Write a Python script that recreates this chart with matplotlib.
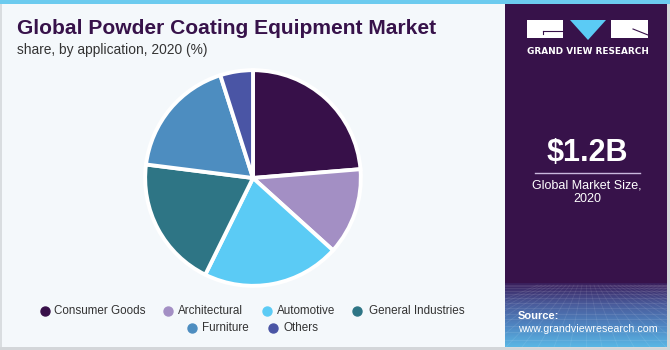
import numpy as np
import matplotlib
matplotlib.use("Agg")
import matplotlib.pyplot as plt
from matplotlib.patches import Rectangle, Polygon
from matplotlib.colors import LinearSegmentedColormap

categories = ["Consumer Goods", "Architectural", "Automotive", "General Industries", "Furniture", "Others"]
shares = [23.7, 13.0, 20.6, 19.7, 18.1, 4.9]
colors = ["#371049", "#a38fc4", "#5bcbf5", "#2e7585", "#4d8dc0", "#4a55a5"]

title = "Global Powder Coating Equipment Market"
subtitle = "share, by application, 2020 (%)"
market_size = "$1.2B"
market_label = "Global Market Size,\n2020"

W, H = 670, 350
fig = plt.figure(figsize=(W / 100, H / 100), dpi=100)
fig.patch.set_facecolor("#f4f8fb")

bg = fig.add_axes([0, 0, 1, 1])
bg.set_xlim(0, W)
bg.set_ylim(H, 0)
bg.axis("off")

# left panel & borders
bg.add_patch(Rectangle((0, 0), W, H, facecolor="#f4f8fb", edgecolor="none"))
bg.add_patch(Rectangle((0, 0), 2, H, facecolor="#d9dde0", edgecolor="none"))
bg.add_patch(Rectangle((0, 347), W, 3, facecolor="#d3d6d9", edgecolor="none"))
bg.add_patch(Rectangle((667, 0), 3, H, facecolor="#d3d6d9", edgecolor="none"))
# right panel
bg.add_patch(Rectangle((505, 0), 162, 347, facecolor="#37124a", edgecolor="none"))
# gradient at bottom right
cmap = LinearSegmentedColormap.from_list("g", ["#3a1f5c", "#4a5c9c", "#4f86c2", "#5ab6e4"])
grad = np.linspace(0, 1, 100).reshape(-1, 1)
bg.imshow(grad, cmap=cmap, extent=(505, 667, 347, 283), aspect="auto", zorder=1)
# faint perspective grid
for i in range(-12, 26):
    x0 = 586 + i * 4
    x1 = 586 + i * 16
    bg.plot([x0, x1], [285, 347], color="white", alpha=0.09, lw=0.6, zorder=2)
ys = 285 + (np.linspace(0, 1, 14) ** 1.6) * 62
for y in ys:
    bg.plot([505, 667], [y, y], color="white", alpha=0.1, lw=0.6, zorder=2)
bg.add_patch(Rectangle((500, 283), 5, 64, facecolor="#f4f8fb", edgecolor="none", zorder=3))
bg.add_patch(Rectangle((667, 283), 3, 67, facecolor="#d3d6d9", edgecolor="none", zorder=3))
# top strip
bg.add_patch(Rectangle((0, 0), W, 4, facecolor="#6ccbef", edgecolor="none", zorder=4))

# logo
bg.add_patch(Rectangle((527, 20), 36, 18, facecolor="white", edgecolor="none", zorder=5))
bg.plot([543, 563], [31, 31], color="#37124a", lw=0.8, zorder=6)
bg.plot([543, 543], [31, 34], color="#37124a", lw=0.8, zorder=6)
bg.add_patch(Polygon([[570, 20], [606, 20], [588, 40]], closed=True, facecolor="#5bcbf5", edgecolor="none", zorder=5))
bg.add_patch(Rectangle((611, 20), 37, 18, facecolor="white", edgecolor="none", zorder=5))
bg.plot([633, 648], [29, 35], color="#37124a", lw=0.8, zorder=6)
bg.text(587.5, 51, "GRAND VIEW RESEARCH", color="white", fontsize=6.4, fontweight="bold",
        family="DejaVu Sans", ha="center", va="center", zorder=6)

# market size
bg.text(587, 153, market_size, color="white", fontsize=22, fontweight="bold",
        family="Liberation Sans", ha="center", va="center", zorder=6)
bg.plot([535, 640], [173, 173], color="#c9b8dd", lw=1.0, zorder=6)
bg.text(587, 192, market_label, color="white", fontsize=9, family="Liberation Sans",
        ha="center", va="center", linespacing=1.2, zorder=6)

# source
bg.text(518, 316, "Source:", color="white", fontsize=8.0, fontweight="bold",
        family="Liberation Sans", ha="left", va="center", zorder=6)
bg.text(518, 329, "www.grandviewresearch.com", color="white", fontsize=7.7,
        family="Liberation Sans", ha="left", va="center", zorder=6)

# titles
bg.text(17, 28, title, color="#37124a", fontsize=15.1, fontweight="heavy",
        family="Liberation Sans", ha="left", va="center", zorder=6)
bg.text(17, 50, subtitle, color="#333333", fontsize=9.9, family="Liberation Sans",
        ha="left", va="center", zorder=6)

# pie
cx, cy, r = 253, 178, 110
pax = fig.add_axes([(cx - r) / W, (H - cy - r) / H, 2 * r / W, 2 * r / H])
pax.pie(shares, colors=colors, startangle=90, counterclock=False,
        wedgeprops=dict(edgecolor="white", linewidth=2.8))
pax.set_xlim(-1.02, 1.02)
pax.set_ylim(-1.02, 1.02)
pax.set_aspect("auto")
pax.axis("off")

# legend (manual rows)
row1 = [(45, 54, 0), (168, 178, 1), (267, 277, 2), (357, 369, 3)]
row2 = [(192, 202, 4), (273, 283, 5)]
for items, y in ((row1, 311), (row2, 328)):
    for mx, tx, idx in items:
        bg.scatter([mx], [y], s=42, color=colors[idx], zorder=6)
        bg.text(tx, y, categories[idx], color="#333333", fontsize=8.4,
                family="Liberation Sans", ha="left", va="center", zorder=6)

fig.savefig("out.png", dpi=100, facecolor=fig.get_facecolor())
